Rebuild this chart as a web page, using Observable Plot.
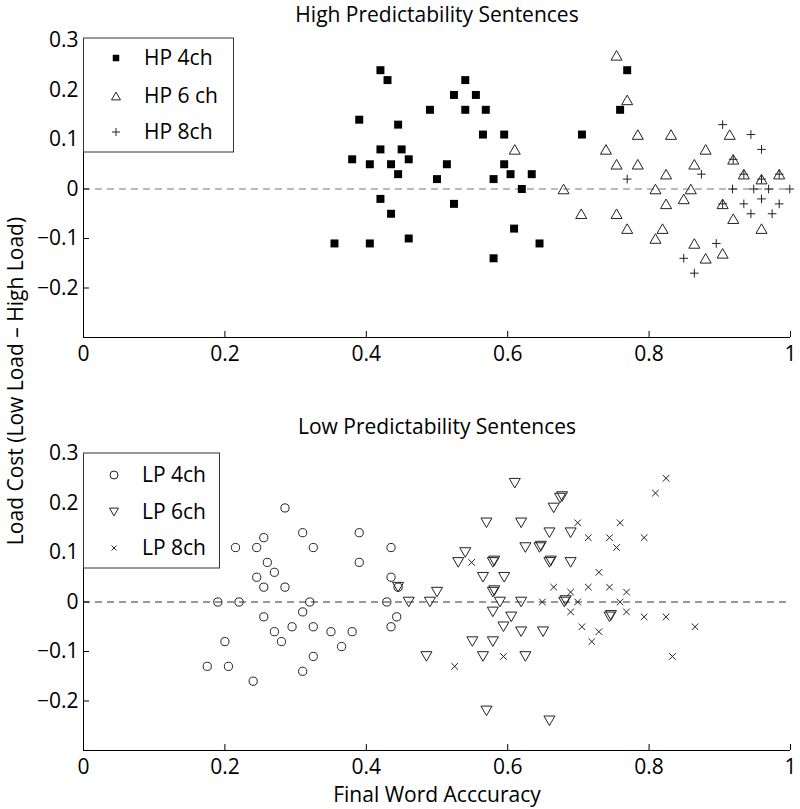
<!DOCTYPE html>
<html><head><meta charset="utf-8">
<script src="https://cdn.jsdelivr.net/npm/d3@7"></script>
<script src="https://cdn.jsdelivr.net/npm/@observablehq/plot@0.6"></script>
<style>
body{margin:0;background:#fff;font-family:"Open Sans", sans-serif;}
#wrap{position:relative;width:800px;height:809px;}
#wrap svg{display:block;}
#ylab{position:absolute;left:15px;top:381px;transform:translate(-50%,-50%) rotate(-90deg);white-space:nowrap;font-size:21px;color:#000;font-family:"Open Sans", sans-serif;line-height:1;}
</style></head><body><div id="wrap"></div><script>
const xTicks = [0, 0.2, 0.4, 0.6, 0.8, 1];
const yTicks = [-0.2, -0.1, 0, 0.1, 0.2, 0.3];
const titles = ["High Predictability Sentences", "Low Predictability Sentences"];
const xTitle = "Final Word Acccuracy";
const yTitle = "Load Cost (Low Load \u2013 High Load)";
const hpLabels = ["HP 4ch", "HP 6 ch", "HP 8ch"];
const lpLabels = ["LP 4ch", "LP 6ch", "LP 8ch"];

const hp4ch = [[0.355,-0.11],[0.380,0.06],[0.390,0.14],[0.405,0.05],[0.405,-0.11],[0.420,0.24],[0.420,0.08],[0.420,-0.02],[0.430,0.22],[0.435,0.05],[0.435,-0.05],[0.445,0.13],[0.445,0.03],[0.450,0.08],[0.460,0.06],[0.460,-0.10],[0.490,0.16],[0.500,0.02],[0.514,0.05],[0.524,0.19],[0.524,-0.03],[0.540,0.22],[0.540,0.16],[0.555,0.19],[0.565,0.11],[0.569,0.16],[0.580,0.02],[0.580,-0.14],[0.595,0.11],[0.595,0.05],[0.604,0.03],[0.609,-0.08],[0.620,0.00],[0.634,0.03],[0.645,-0.11],[0.705,0.11],[0.759,0.16],[0.769,0.24]];
const hp6ch = [[0.610,0.08],[0.679,0.00],[0.704,-0.05],[0.739,0.08],[0.754,0.27],[0.769,0.18],[0.754,0.05],[0.784,0.11],[0.784,0.05],[0.754,-0.05],[0.769,-0.08],[0.809,0.00],[0.824,-0.03],[0.819,-0.08],[0.809,-0.10],[0.824,0.03],[0.831,0.11],[0.880,0.08],[0.864,0.05],[0.859,0.00],[0.849,-0.02],[0.914,0.11],[0.919,0.06],[0.934,0.03],[0.959,0.02],[0.984,0.03],[0.904,-0.03],[0.919,-0.06],[0.959,-0.08],[0.864,-0.11],[0.880,-0.14],[0.904,-0.13]];
const hp8ch = [[0.769,0.02],[0.904,0.13],[0.944,0.11],[0.959,0.08],[0.874,0.03],[0.919,0.06],[0.934,0.03],[0.959,0.02],[0.984,0.03],[0.918,0.00],[0.948,0.00],[0.969,0.00],[0.999,0.00],[0.959,-0.02],[0.934,-0.03],[0.984,-0.03],[0.904,-0.03],[0.944,-0.05],[0.974,-0.05],[0.895,-0.11],[0.849,-0.14],[0.864,-0.17]];
const lp4ch = [[0.285,0.19],[0.310,0.14],[0.390,0.14],[0.255,0.13],[0.215,0.11],[0.245,0.11],[0.325,0.11],[0.435,0.11],[0.260,0.08],[0.390,0.08],[0.270,0.06],[0.245,0.05],[0.435,0.05],[0.255,0.03],[0.285,0.03],[0.445,0.03],[0.190,0.00],[0.220,0.00],[0.320,0.00],[0.429,0.00],[0.310,-0.02],[0.255,-0.03],[0.443,-0.03],[0.295,-0.05],[0.325,-0.05],[0.435,-0.05],[0.270,-0.06],[0.350,-0.06],[0.380,-0.06],[0.200,-0.08],[0.280,-0.08],[0.365,-0.09],[0.325,-0.11],[0.175,-0.13],[0.205,-0.13],[0.310,-0.14],[0.240,-0.16]];
const lp6ch = [[0.445,0.03],[0.460,0.00],[0.490,0.00],[0.500,0.02],[0.485,-0.11],[0.530,0.08],[0.540,0.10],[0.550,-0.08],[0.565,0.05],[0.565,-0.11],[0.570,0.16],[0.570,-0.22],[0.579,0.08],[0.581,0.083],[0.579,0.02],[0.581,0.023],[0.579,-0.02],[0.579,-0.08],[0.589,0.00],[0.594,-0.05],[0.595,0.05],[0.605,-0.03],[0.610,0.24],[0.619,0.16],[0.619,0.00],[0.619,-0.06],[0.625,0.11],[0.625,-0.11],[0.645,0.11],[0.647,0.113],[0.650,-0.06],[0.659,0.14],[0.659,0.08],[0.661,0.083],[0.659,-0.24],[0.665,0.19],[0.674,0.21],[0.677,0.213],[0.680,0.00],[0.682,0.003],[0.689,0.14],[0.689,0.08],[0.744,-0.03],[0.746,-0.027]];
const lp8ch = [[0.525,-0.13],[0.549,0.08],[0.594,-0.11],[0.649,0.00],[0.665,0.03],[0.689,0.02],[0.689,-0.02],[0.699,0.16],[0.699,0.00],[0.705,-0.05],[0.714,0.13],[0.714,0.03],[0.719,-0.08],[0.729,0.06],[0.729,-0.06],[0.744,0.13],[0.744,0.03],[0.754,0.11],[0.759,0.16],[0.759,0.00],[0.768,0.02],[0.768,-0.02],[0.793,0.13],[0.793,-0.03],[0.809,0.22],[0.824,0.25],[0.824,-0.03],[0.833,-0.11],[0.865,-0.05]];

const S3 = Math.sqrt(3);
const triUp = {draw(c, s){const a = Math.sqrt(4*s/S3), h = a*S3/2; c.moveTo(0,-h/2); c.lineTo(a/2,h/2); c.lineTo(-a/2,h/2); c.closePath();}};
const triDown = {draw(c, s){const a = Math.sqrt(4*s/S3), h = a*S3/2; c.moveTo(0,h/2); c.lineTo(a/2,-h/2); c.lineTo(-a/2,-h/2); c.closePath();}};
const fmt = d3.format("~g");

const topSets = [
  {data: hp4ch, symbol: "square", d3sym: d3.symbolSquare, r: 4.5, lsize: 42, fill: "#000", stroke: "none"},
  {data: hp6ch, symbol: triUp, d3sym: triUp, r: 4.1, lsize: 35, fill: "none", stroke: "#222"},
  {data: hp8ch, symbol: "plus", d3sym: d3.symbolPlus, r: 2.9, lsize: 23, fill: "none", stroke: "#222"}
];
const botSets = [
  {data: lp4ch, symbol: "circle", d3sym: d3.symbolCircle, r: 4.1, lsize: 50, fill: "none", stroke: "#222"},
  {data: lp6ch, symbol: triDown, d3sym: triDown, r: 4.1, lsize: 35, fill: "none", stroke: "#222"},
  {data: lp8ch, symbol: "times", d3sym: d3.symbolTimes, r: 3.1, lsize: 18, fill: "none", stroke: "#222"}
];

function panel({title, sets, labels, height, marginTop, marginBottom, titleDy, ruleStroke, xlabel, leg}) {
  const marks = [
    Plot.ruleY([0], {stroke: ruleStroke, strokeDasharray: "7,5", strokeWidth: 1}),
    ...sets.map(s => Plot.dot(s.data, {x: d => d[0], y: d => d[1], symbol: s.symbol, r: s.r, fill: s.fill, stroke: s.stroke, strokeWidth: 1})),
    Plot.ruleX([0], {stroke: "#000", strokeWidth: 1}),
    Plot.ruleY([-0.3], {stroke: "#000", strokeWidth: 1}),
    Plot.axisX({ticks: xTicks, tickFormat: fmt, tickSize: -6, tickPadding: 15, fontSize: 21, label: null, stroke: "#000"}),
    Plot.axisY({ticks: yTicks, tickFormat: fmt, tickSize: -6, tickPadding: 11, fontSize: 21, label: null, stroke: "#000"}),
    Plot.text([title], {text: d => d, frameAnchor: "top", lineAnchor: "middle", dy: titleDy, fontSize: 21})
  ];
  if (xlabel) marks.push(Plot.text([xlabel], {text: d => d, frameAnchor: "bottom", lineAnchor: "middle", dy: 45, fontSize: 21}));
  const svg = Plot.plot({
    width: 800, height, marginTop, marginBottom, marginLeft: 83, marginRight: 10,
    x: {domain: [0, 1]}, y: {domain: [-0.3, 0.3]},
    style: {fontFamily: "'Open Sans', sans-serif", fontSize: "21px", background: "white", color: "#000", overflow: "visible"},
    marks
  });
  const g = d3.select(svg).append("g");
  g.append("rect").attr("x", leg.x).attr("y", leg.y).attr("width", leg.w).attr("height", leg.h)
    .attr("fill", "white").attr("stroke", "#333").attr("stroke-width", 1);
  sets.forEach((s, i) => {
    const yy = leg.rows[i];
    g.append("path").attr("transform", `translate(${leg.mx},${yy})`)
      .attr("d", d3.symbol(s.d3sym, s.lsize)())
      .attr("fill", s.fill).attr("stroke", s.stroke === "none" ? null : s.stroke).attr("stroke-width", 1);
    g.append("text").attr("x", leg.tx).attr("y", yy).attr("dy", "0.35em").attr("text-anchor", "start")
      .attr("font-size", 21).attr("fill", "#000").text(labels[i]);
  });
  return svg;
}

const wrap = document.getElementById("wrap");
wrap.appendChild(panel({title: titles[0], sets: topSets, labels: hpLabels, height: 400, marginTop: 40, marginBottom: 63, titleDy: -25, ruleStroke: "#777", xlabel: null,
  leg: {x: 83.5, y: 38, w: 150, h: 114, mx: 116, tx: 144, rows: [58, 96, 132]}}));
wrap.appendChild(panel({title: titles[1], sets: botSets, labels: lpLabels, height: 409, marginTop: 53, marginBottom: 59, titleDy: -26, ruleStroke: "#333", xlabel: xTitle,
  leg: {x: 83.5, y: 53, w: 136, h: 115, mx: 114, tx: 142, rows: [75, 112, 148]}}));
const yl = document.createElement("div");
yl.id = "ylab"; yl.textContent = yTitle;
wrap.appendChild(yl);
</script></body></html>
